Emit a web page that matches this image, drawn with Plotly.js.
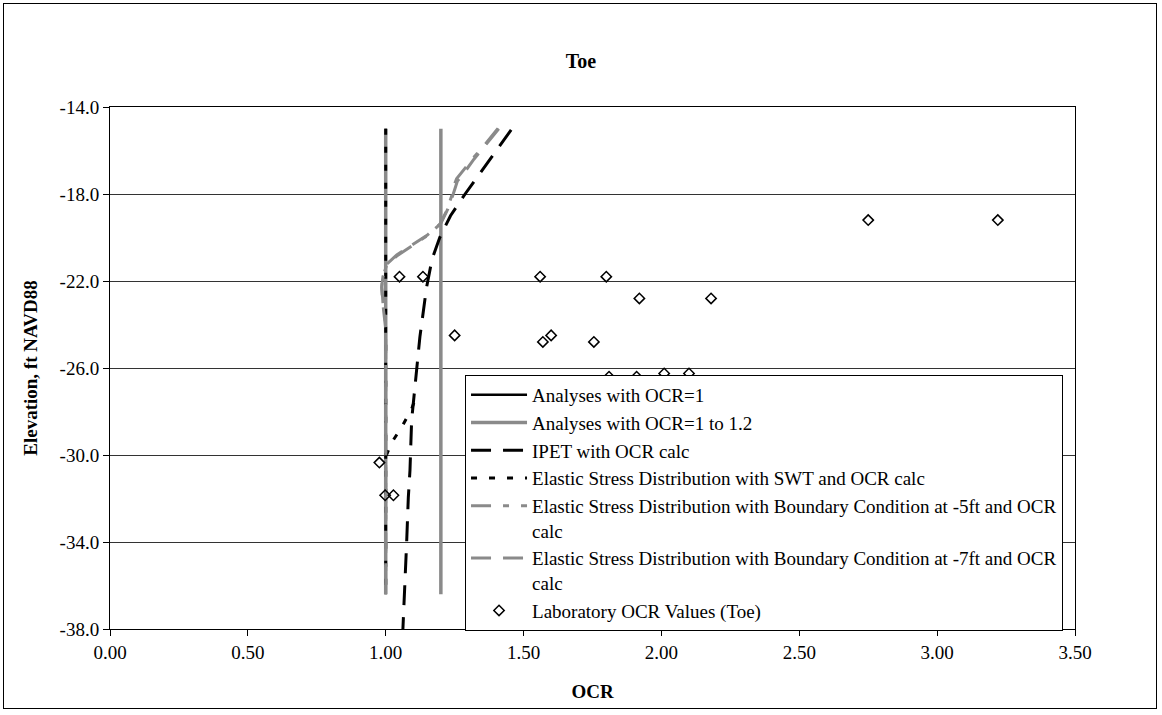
<!DOCTYPE html>
<html>
<head>
<meta charset="utf-8">
<script src="https://cdn.plot.ly/plotly-3.0.1.min.js"></script>
<style>
html,body{margin:0;padding:0;background:#fff;}
#wrap{position:relative;width:1162px;height:715px;}
#frame{position:absolute;left:3px;top:3px;width:1154px;height:706px;border:1px solid #000;box-sizing:border-box;pointer-events:none;z-index:5;}
#chart{position:absolute;left:0;top:0;width:1162px;height:715px;}
</style>
</head>
<body>
<div id="wrap"><div id="chart"></div><div id="frame"></div></div>
<script>
// ---- data ----
const ocr1X = [1.0, 1.0];
const ocr1Y = [-15.0, -36.4];

const rangeX = [1.0, 1.0, null, 1.2, 1.2];
const rangeY = [-15.0, -36.4, null, -15.0, -36.4];

const ipetX = [1.455, 1.401, 1.345, 1.288, 1.235, 1.196, 1.168, 1.148, 1.124, 1.112, 1.094, 1.088, 1.082, 1.076, 1.070, 1.064, 1.061];
const ipetY = [-15.05, -16.0, -17.0, -18.0, -19.0, -20.0, -21.0, -22.3, -24.57, -26.1, -28.4, -30.7, -31.95, -34.0, -35.65, -37.5, -38.4];

const swtX = [1.0, 1.0, null, 1.102, 1.094, 1.061, 1.022, 1.003, 1.0];
const swtY = [-15.0, -36.4, null, -27.6, -27.88, -28.65, -29.42, -30.0, -30.4];

const bc5X = [1.407, 1.359, 1.317, 1.275, 1.257, 1.245, 1.239, 1.220, 1.196, 1.148, 1.094, 1.040, 1.004, 0.989, 0.986, 0.990, 1.0, 1.0];
const bc5Y = [-14.98, -15.74, -16.35, -17.04, -17.3, -17.7, -18.1, -18.8, -19.4, -19.94, -20.4, -20.85, -21.24, -21.85, -22.23, -23.0, -24.0, -36.4];

const bc7X = [1.410, 1.360, 1.320, 1.280, 1.260, 1.245, 1.225, 1.200, 1.150, 1.095, 1.040, 1.006, 0.990, 0.985, 0.990, 1.0, 1.0];
const bc7Y = [-15.0, -15.8, -16.4, -17.1, -17.4, -18.0, -18.7, -19.35, -19.9, -20.35, -20.8, -21.2, -21.8, -22.3, -23.1, -24.2, -36.4];

const labX = [3.22, 2.75, 1.05, 1.135, 1.56, 1.80, 1.92, 2.18, 1.25, 1.57, 1.60, 1.755, 1.81, 1.91, 2.01, 2.10, 0.977, 0.998, 1.028];
const labY = [-19.2, -19.2, -21.8, -21.8, -21.8, -21.8, -22.8, -22.8, -24.5, -24.8, -24.5, -24.8, -26.4, -26.4, -26.25, -26.25, -30.35, -31.85, -31.85];

const seriesNames = [
  'Analyses with OCR=1',
  'Analyses with OCR=1 to 1.2',
  'IPET with OCR calc',
  'Elastic Stress Distribution with SWT and OCR calc',
  'Elastic Stress Distribution with Boundary Condition at -5ft and OCR<br>calc',
  'Elastic Stress Distribution with Boundary Condition at -7ft and OCR<br>calc',
  'Laboratory OCR Values (Toe)'
];

const xTickVals = [0, 0.5, 1.0, 1.5, 2.0, 2.5, 3.0, 3.5];
const xTickText = ['0.00', '0.50', '1.00', '1.50', '2.00', '2.50', '3.00', '3.50'];
const yTickVals = [-38, -34, -30, -26, -22, -18, -14];
const yTickText = ['-38.0', '-34.0', '-30.0', '-26.0', '-22.0', '-18.0', '-14.0'];

// ---- chart ----
const FONT = 'Liberation Serif, Times New Roman, serif';
const GRAY = '#8a8a8a';

const traces = [
  {x: ocr1X, y: ocr1Y, name: seriesNames[0], mode: 'lines', legendgroup: 'g1',
   line: {color: '#000', width: 2.5}},
  {x: rangeX, y: rangeY, name: seriesNames[1], mode: 'lines', legendgroup: 'g2', connectgaps: false,
   line: {color: GRAY, width: 3.5}},
  {x: ipetX, y: ipetY, name: seriesNames[2], mode: 'lines', legendgroup: 'g3',
   line: {color: '#000', width: 3, dash: '20px,12px'}},
  {x: swtX, y: swtY, name: seriesNames[3], mode: 'lines', legendgroup: 'g4', connectgaps: false,
   line: {color: '#000', width: 3, dash: '6px,12px'}},
  {x: bc5X, y: bc5Y, name: seriesNames[4], mode: 'lines', legendgroup: 'g5',
   line: {color: GRAY, width: 3, dash: '20px,12px,6px,12px'}},
  {x: bc7X, y: bc7Y, name: seriesNames[5], mode: 'lines', legendgroup: 'g6',
   line: {color: GRAY, width: 3, dash: '20px,12px'}},
  {x: labX, y: labY, name: seriesNames[6], mode: 'markers', legendgroup: 'g7',
   marker: {symbol: 'diamond-open', size: 8, color: '#000', line: {width: 1.5, color: '#000'}}}
];

const layout = {
  width: 1162, height: 715,
  margin: {l: 110, r: 87, t: 107, b: 86},
  paper_bgcolor: '#fff', plot_bgcolor: '#fff',
  font: {family: FONT, size: 19, color: '#000'},
  showlegend: true,
  title: {text: '<b>Toe</b>', font: {family: FONT, size: 20, color: '#000'},
          x: 0.5, xanchor: 'center', y: 0.915, yanchor: 'middle'},
  xaxis: {
    range: [0, 3.5], tickvals: xTickVals, ticktext: xTickText,
    showgrid: false, zeroline: false, showline: true, linecolor: '#000', linewidth: 1, mirror: true,
    ticks: 'outside', ticklen: 6, tickcolor: '#000',
    tickfont: {family: FONT, size: 19, color: '#000'},
    title: {text: '<b>OCR</b>', font: {family: FONT, size: 19, color: '#000'}, standoff: 22}
  },
  yaxis: {
    range: [-38, -14], tickvals: yTickVals, ticktext: yTickText,
    showgrid: true, gridcolor: '#333', gridwidth: 1,
    zeroline: false, showline: true, linecolor: '#000', linewidth: 1, mirror: true,
    ticks: 'outside', ticklen: 6, tickcolor: '#000',
    tickfont: {family: FONT, size: 19, color: '#000'},
    title: {text: '<b>Elevation, ft NAVD88</b>', font: {family: FONT, size: 19, color: '#000'}, standoff: 16}
  },
  legend: {
    x: 0.3679, y: 0.4866, xanchor: 'left', yanchor: 'top',
    bgcolor: '#fff', bordercolor: '#000', borderwidth: 1,
    font: {family: FONT, size: 19, color: '#000'},
    itemwidth: 56, entrywidth: 545, entrywidthmode: 'pixels',
    valign: 'top', tracegroupgap: 3,
    traceorder: 'normal'
  }
};

Plotly.newPlot('chart', traces, layout, {staticPlot: true, displayModeBar: false});
</script>
</body>
</html>
